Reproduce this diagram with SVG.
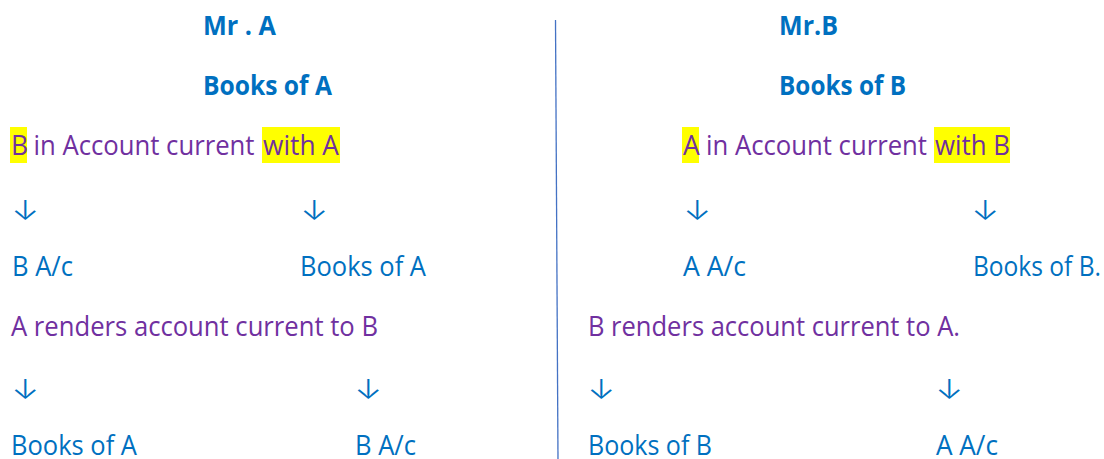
<svg xmlns="http://www.w3.org/2000/svg" width="1104" height="459" viewBox="0 0 1104 459">
  <style>
    text { font-family: "Open Sans", "Liberation Sans", sans-serif; font-size: 26.5px; }
    .title { font-weight: bold; fill: #0070C0; }
    .acct { fill: #0070C0; }
    .stmt { fill: #7030A0; }
    .hl { fill: #FFFF00; }
    .arrow { font-family: Inter, "Noto Sans CJK JP", sans-serif; font-size: 30px; font-weight: 300; fill: #0070C0; }
    .divider { stroke: #4472C4; stroke-width: 1.3; fill: none; }
  </style>
  <rect width="1104" height="459" fill="#ffffff"/>

  <!-- vertical divider between the two ledgers -->
  <line id="divider" class="divider" x1="555.5" y1="20" x2="558" y2="459"/>

  <!-- Left side: books kept by A -->
  <g id="mr-a">
    <text class="title" x="203" y="35" textLength="73" lengthAdjust="spacingAndGlyphs">Mr . A</text>
    <text class="title" x="203" y="95" textLength="129" lengthAdjust="spacingAndGlyphs">Books of A</text>
  </g>
  <g id="a-heading">
    <rect class="hl" x="10" y="127" width="17" height="36"/>
    <rect class="hl" x="262" y="127" width="78" height="36"/>
    <text class="stmt" y="155"><tspan x="11">B</tspan><tspan x="33.5" textLength="221" lengthAdjust="spacingAndGlyphs">in Account current</tspan><tspan x="263" textLength="76" lengthAdjust="spacingAndGlyphs">with A</tspan></text>
  </g>
  <g id="a-ledger-1">
    <text class="acct" x="12" y="276" textLength="61" lengthAdjust="spacingAndGlyphs">B A/c</text>
  </g>
  <g id="a-books-1">
    <text class="acct" x="300" y="276" textLength="126" lengthAdjust="spacingAndGlyphs">Books of A</text>
  </g>
  <g id="a-renders">
    <text class="stmt" x="11" y="336" textLength="367" lengthAdjust="spacingAndGlyphs">A renders account current to B</text>
  </g>
  <g id="a-books-2">
    <text class="acct" x="11" y="455" textLength="126" lengthAdjust="spacingAndGlyphs">Books of A</text>
  </g>
  <g id="a-ledger-2">
    <text class="acct" x="355" y="455" textLength="61" lengthAdjust="spacingAndGlyphs">B A/c</text>
  </g>

  <!-- Right side: books kept by B -->
  <g id="mr-b">
    <text class="title" x="779" y="35" textLength="59" lengthAdjust="spacingAndGlyphs">Mr.B</text>
    <text class="title" x="779" y="95" textLength="127" lengthAdjust="spacingAndGlyphs">Books of B</text>
  </g>
  <g id="b-heading">
    <rect class="hl" x="682" y="127" width="17" height="36"/>
    <rect class="hl" x="934" y="127" width="76" height="36"/>
    <text class="stmt" y="155"><tspan x="683">A</tspan><tspan x="706" textLength="221" lengthAdjust="spacingAndGlyphs">in Account current</tspan><tspan x="935" textLength="75" lengthAdjust="spacingAndGlyphs">with B</tspan></text>
  </g>
  <g id="b-ledger-1">
    <text class="acct" x="683" y="276" textLength="63" lengthAdjust="spacingAndGlyphs">A A/c</text>
  </g>
  <g id="b-books-1">
    <text class="acct" x="973" y="276" textLength="128" lengthAdjust="spacingAndGlyphs">Books of B.</text>
  </g>
  <g id="b-renders">
    <text class="stmt" x="588" y="336" textLength="372" lengthAdjust="spacingAndGlyphs">B renders account current to A.</text>
  </g>
  <g id="b-books-2">
    <text class="acct" x="588" y="455" textLength="124" lengthAdjust="spacingAndGlyphs">Books of B</text>
  </g>
  <g id="b-ledger-2">
    <text class="acct" x="936" y="455" textLength="62" lengthAdjust="spacingAndGlyphs">A A/c</text>
  </g>

  <!-- downward arrows linking each entry to where it is posted (glyph slightly widened) -->
  <g id="connectors">
    <text class="arrow" transform="translate(11.5 220) scale(1.1 0.9)">↓</text>
    <text class="arrow" transform="translate(300.5 220) scale(1.1 0.9)">↓</text>
    <text class="arrow" transform="translate(11.5 399) scale(1.1 0.9)">↓</text>
    <text class="arrow" transform="translate(354.5 399) scale(1.1 0.9)">↓</text>
    <text class="arrow" transform="translate(683.5 220) scale(1.1 0.9)">↓</text>
    <text class="arrow" transform="translate(971.5 220) scale(1.1 0.9)">↓</text>
    <text class="arrow" transform="translate(587.5 399) scale(1.1 0.9)">↓</text>
    <text class="arrow" transform="translate(935.5 399) scale(1.1 0.9)">↓</text>
  </g>
</svg>
